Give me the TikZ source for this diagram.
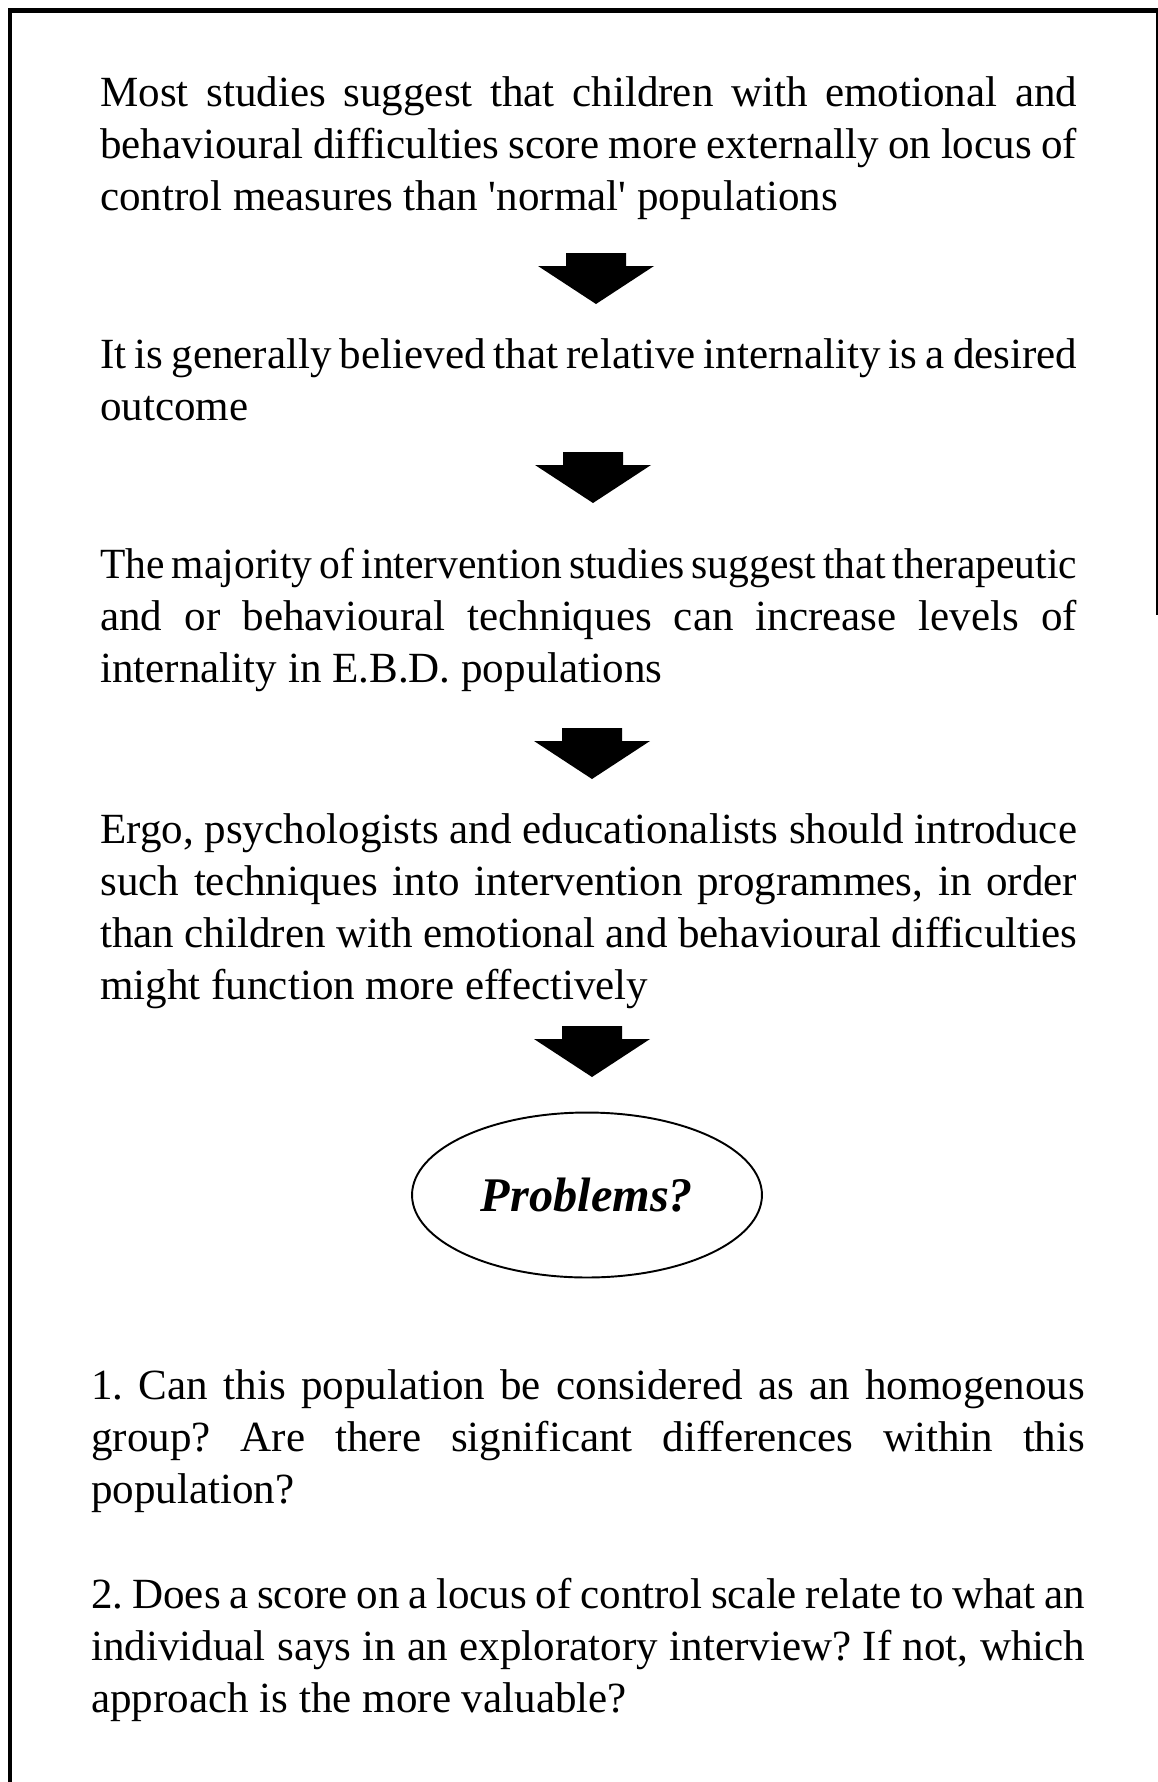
\documentclass[tikz,border=0pt]{standalone}
\usepackage{fontspec}
\setmainfont{Liberation Serif}
\newfontfamily\narrowserif[FakeStretch=0.965]{Liberation Serif}
\usetikzlibrary{shapes.geometric}
\frenchspacing
\hyphenpenalty=10000
\tolerance=9999

% block arrow, top centre given
\newcommand{\blockarrow}[1]{%
  \fill[shift={(#1)}] (-30,0) -- (30,0) -- (30,13) -- (58,13) -- (0,51) -- (-58,13) -- (-30,13) -- cycle;}

\begin{document}
\begin{tikzpicture}[x=0.02cm, y=-0.02cm,
  every node/.style={inner sep=0pt, font=\fontsize{24.5pt}{29.6pt}\selectfont},
  para/.style={anchor=base west, text width=19.54cm, align=justify},
  item/.style={anchor=base west, text width=19.88cm, align=justify}]
	\useasboundingbox (0,0) rectangle (1158,1782);
	% frame
	\draw[line width=0.1cm] (10,1782) -- (10,10) -- (1158,10);
	\draw[line width=0.04cm] (1157,10) -- (1157,615);

	\node[para] (most) at (100,106) {Most studies suggest that children with emotional and\linebreak behavioural difficulties score more externally on locus of\linebreak control measures than \textquotesingle normal\textquotesingle\ populations};
	\node[para] (belief) at (100,368) {{\spaceskip=0.17em plus 0.3em minus 0.05em It is generally believed that relative internality is a desired}\linebreak outcome};
	\node[para] (major) at (100,578) {{\narrowserif\spaceskip=0.08em plus 0.3em minus 0.04em The majority of intervention studies suggest that therapeutic}\linebreak and or behavioural techniques can increase levels of\linebreak internality in E.B.D. populations};
	\node[para] (ergo) at (100,843) {Ergo, psychologists and educationalists should introduce\linebreak such techniques into intervention programmes, in order\linebreak than children with emotional and behavioural difficulties\linebreak might function more effectively};

	\node[ellipse, draw, line width=1.1pt, minimum width=7cm, minimum height=3.3cm,
	      font=\fontsize{27.5pt}{33pt}\selectfont\bfseries\itshape] (prob) at (587,1195) {Problems?};

	\coordinate (a1) at (596,253);
	\coordinate (a2) at (593,452);
	\coordinate (a3) at (592,728);
	\coordinate (a4) at (592,1026);
	\blockarrow{a1}
	\blockarrow{a2}
	\blockarrow{a3}
	\blockarrow{a4}

	\node[item] (q1) at (91,1399) {{\spaceskip=0.15em plus 0.5em minus 0.05em 1. Can this population be considered as an homogenous}\linebreak group? Are there significant differences within this\linebreak population?};
	\node[item] (q2) at (91,1608) {{\spaceskip=0.12em plus 0.3em minus 0.05em 2. Does a score on a locus of control scale relate to what an}\linebreak individual says in an exploratory interview? If not, which\linebreak approach is the more valuable?};
\end{tikzpicture}
\end{document}
